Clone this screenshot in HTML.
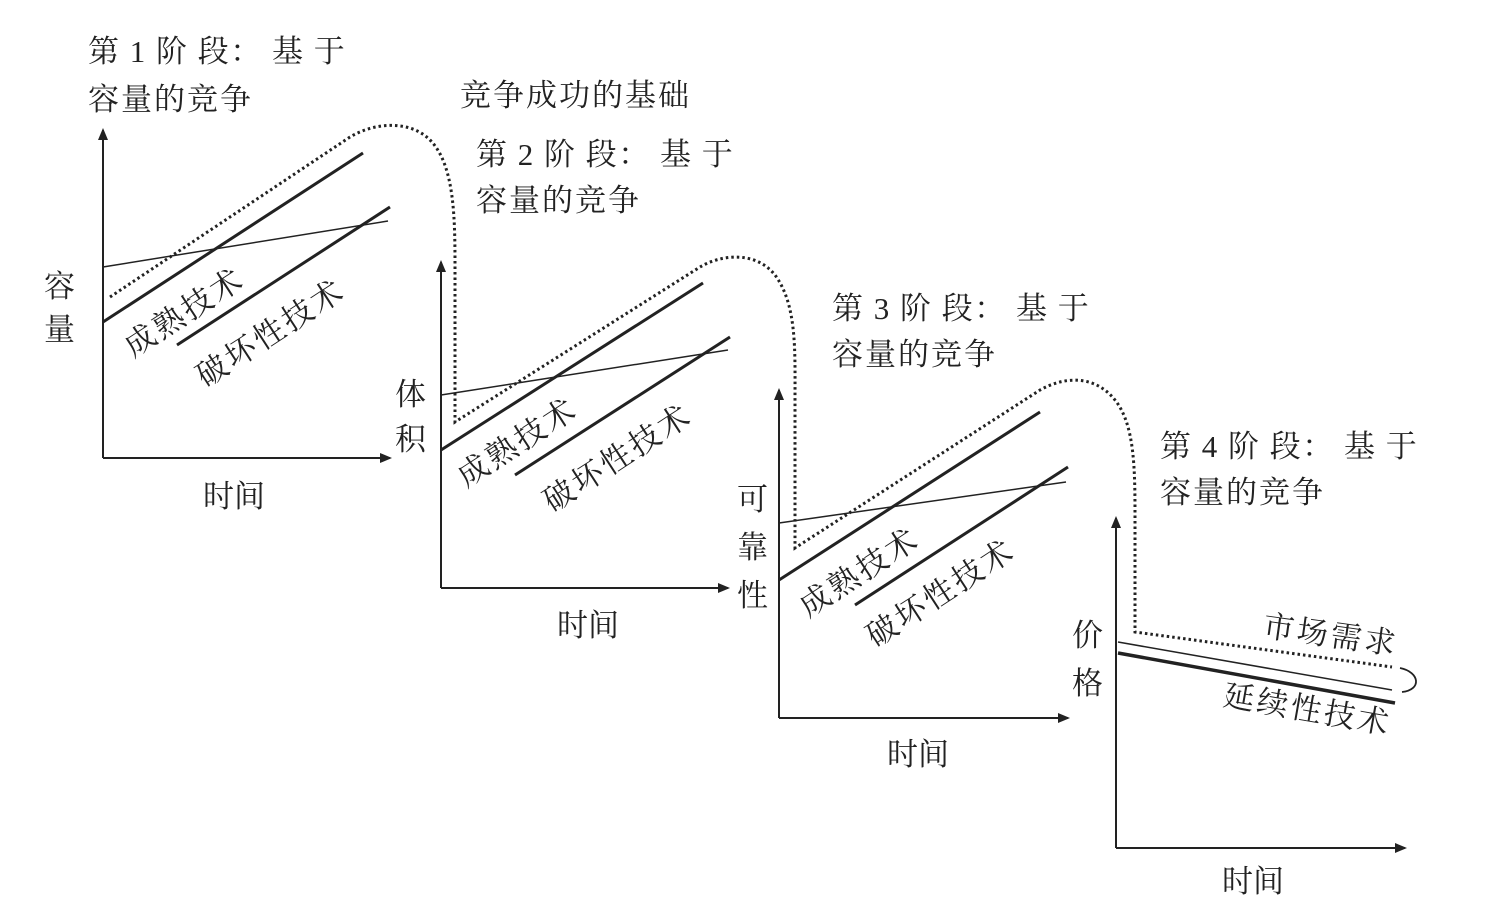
<!DOCTYPE html>
<html><head><meta charset="utf-8"><style>
html,body{margin:0;padding:0;background:#fff;}
svg{display:block}
text{font-family:"Liberation Serif","Noto Serif CJK SC","Noto Sans CJK SC",serif;fill:#222;font-size:31px}
.t{letter-spacing:1.5px}
.s{letter-spacing:2px}
.r{font-size:31px;letter-spacing:3px}
</style></head><body>
<svg width="1500" height="919" viewBox="0 0 1500 919" xmlns="http://www.w3.org/2000/svg">
<defs><marker id="a" markerWidth="12" markerHeight="10" refX="10" refY="5" orient="auto" markerUnits="userSpaceOnUse"><path d="M0,0 L12,5 L0,10 Z" fill="#222"/></marker></defs>
<g stroke="#222" fill="none">
<path d="M103,458 V130" stroke-width="2" marker-end="url(#a)"/><path d="M103,458 H390" stroke-width="2" marker-end="url(#a)"/>
<path d="M441,588 V262" stroke-width="2" marker-end="url(#a)"/><path d="M441,588 H728" stroke-width="2" marker-end="url(#a)"/>
<path d="M779,718 V390" stroke-width="2" marker-end="url(#a)"/><path d="M779,718 H1068" stroke-width="2" marker-end="url(#a)"/>
<path d="M1116,848 V518" stroke-width="2" marker-end="url(#a)"/><path d="M1116,848 H1405" stroke-width="2" marker-end="url(#a)"/>
<path d="M103,267 L388,221" stroke-width="1.5"/>
<path d="M103,322 L363,153" stroke-width="3"/>
<path d="M177,345 L390,207" stroke-width="3"/>
<path d="M441,395 L728,350" stroke-width="1.5"/>
<path d="M441,450 L703,283" stroke-width="3"/>
<path d="M515,475 L730,337" stroke-width="3"/>
<path d="M779,523 L1066,482" stroke-width="1.5"/>
<path d="M779,580 L1040,412" stroke-width="3"/>
<path d="M855,605 L1068,467" stroke-width="3"/>
<path d="M1118,642 L1392,690" stroke-width="1.5"/>
<path d="M1118,653 L1395,703" stroke-width="3.5"/>
<path d="M1400,668 C1420,672 1422,690 1402,692" stroke-width="1.8"/>
<path d="M110,297 L350,137 C375,122 410,120 430,140 C455,165 455,220 455,270 L455,422 L700,267 C720,255 755,250 775,275 C797,305 795,350 795,400 L795,548 L1040,390 C1065,376 1095,375 1115,400 C1135,425 1135,470 1135,520 L1135,632 L1392,667" stroke-width="3" stroke-dasharray="2.5,3"/>
</g>
<text class="t" x="88" y="62">第 1 阶 段： 基 于</text>
<text class="s" x="88" y="110">容量的竞争</text>
<text class="s" x="460" y="106">竞争成功的基础</text>
<text class="t" x="476" y="165">第 2 阶 段： 基 于</text>
<text class="s" x="476" y="211">容量的竞争</text>
<text class="t" x="832" y="319">第 3 阶 段： 基 于</text>
<text class="s" x="832" y="365">容量的竞争</text>
<text class="t" x="1160" y="457">第 4 阶 段： 基 于</text>
<text class="s" x="1160" y="503">容量的竞争</text>
<text x="44" y="297">容</text><text x="44" y="340">量</text>
<text x="395" y="405">体</text><text x="395" y="450">积</text>
<text x="737" y="510">可</text><text x="737" y="558">靠</text><text x="737" y="606">性</text>
<text x="1072" y="646">价</text><text x="1072" y="694">格</text>
<text x="203" y="507">时间</text>
<text x="557" y="636">时间</text>
<text x="887" y="765">时间</text>
<text x="1222" y="892">时间</text>
<text class="r" transform="translate(133,358) rotate(-33)">成熟技术</text>
<text class="r" transform="translate(205,388) rotate(-33)">破坏性技术</text>
<text class="r" transform="translate(466,488) rotate(-33)">成熟技术</text>
<text class="r" transform="translate(552,513) rotate(-33)">破坏性技术</text>
<text class="r" transform="translate(808,618) rotate(-33)">成熟技术</text>
<text class="r" transform="translate(875,648) rotate(-33)">破坏性技术</text>
<text class="r" transform="translate(1262,636) rotate(8)">市场需求</text>
<text class="r" transform="translate(1222,705) rotate(10)">延续性技术</text>
</svg>
</body></html>
